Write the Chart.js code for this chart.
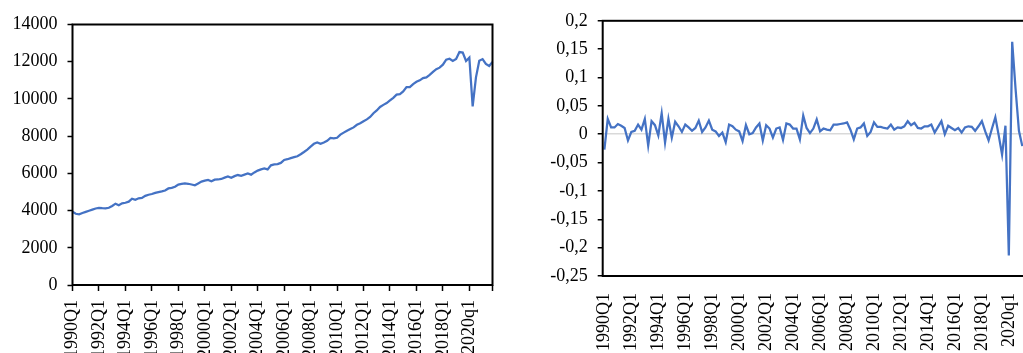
<!DOCTYPE html>
<html>
<head>
<meta charset="utf-8">
<script src="https://cdn.jsdelivr.net/npm/chart.js@4.4.0/dist/chart.umd.min.js"></script>
<style>
  html, body { margin: 0; padding: 0; background: #fff; overflow: hidden; width: 1023px; height: 353px; }
  #levelChart { position: absolute; left: 0; top: 0; }
  #growthChart { position: absolute; left: 510px; top: 0; }
</style>
</head>
<body>
<canvas id="levelChart" width="510" height="353"></canvas>
<canvas id="growthChart" width="545" height="353"></canvas>
<script>
// Quarterly categories 1990Q1 .. 2021Q4 (the source switches to lower-case "q" from 2020)
const firstYear = 1990;
const lastYear = 2021;
const quarters = [];
for (let y = firstYear; y <= lastYear; y++) {
  for (let q = 1; q <= 4; q++) quarters.push(y + (y >= 2020 ? 'q' : 'Q') + q);
}

// Level series
const levelValues = [
  3940, 3830, 3800, 3870, 3930, 3990, 4050, 4110,
  4150, 4130, 4120, 4150, 4250, 4370, 4290, 4390,
  4420, 4480, 4640, 4580, 4660, 4680, 4790, 4850,
  4890, 4950, 4990, 5030, 5080, 5190, 5220, 5280,
  5400, 5430, 5460, 5440, 5400, 5360, 5460, 5560,
  5610, 5650, 5580, 5660, 5670, 5700, 5770, 5830,
  5760, 5850, 5910, 5870, 5930, 5990, 5930, 6050,
  6150, 6210, 6260, 6210, 6430, 6480, 6500, 6560,
  6720, 6760, 6820, 6870, 6920, 7030, 7150, 7280,
  7440, 7590, 7660, 7590, 7660, 7750, 7900, 7880,
  7910, 8080, 8190, 8290, 8380, 8470, 8610, 8690,
  8800, 8900, 9030, 9230, 9380, 9570, 9680, 9780,
  9920, 10060, 10230, 10260, 10400, 10640, 10640, 10800,
  10920, 11000, 11120, 11160, 11290, 11450, 11600, 11680,
  11840, 12110, 12160, 12040, 12150, 12520, 12490, 12040,
  12220, 9600, 11160, 12050, 12140, 11880, 11770, 11990
];

// Quarter-on-quarter growth rate
const growthValues = [
  -0.027, 0.027, 0.012, 0.012, 0.018, 0.015, 0.011, -0.011,
  0.004, 0.006, 0.017, 0.008, 0.027, -0.020, 0.023, 0.016,
  -0.002, 0.037, -0.015, 0.027, -0.006, 0.022, 0.014, 0.004,
  0.017, 0.012, 0.006, 0.011, 0.024, 0.004, 0.012, 0.024,
  0.008, 0.005, -0.003, 0.003, -0.014, 0.017, 0.014, 0.008,
  0.005, -0.012, 0.016, 0.000, 0.002, 0.012, 0.019, -0.011,
  0.016, 0.010, -0.006, 0.010, 0.012, -0.010, 0.019, 0.017,
  0.010, 0.010, -0.009, 0.033, 0.011, 0.002, 0.010, 0.026,
  0.005, 0.010, 0.008, 0.007, 0.017, 0.017, 0.018, 0.019,
  0.021, 0.008, -0.009, 0.010, 0.012, 0.019, -0.003, 0.004,
  0.021, 0.013, 0.013, 0.011, 0.010, 0.017, 0.008, 0.012,
  0.011, 0.014, 0.023, 0.016, 0.020, 0.011, 0.010, 0.014,
  0.014, 0.017, 0.003, 0.013, 0.023, 0.000, 0.015, 0.011,
  0.007, 0.011, 0.003, 0.012, 0.014, 0.013, 0.006, 0.014,
  0.023, 0.005, -0.011, 0.010, 0.030, -0.002, -0.036, 0.015,
  -0.214, 0.163, 0.080, 0.006, -0.021, null, null, null
];

const labelEvery = 8;
const lineColor = '#4472C4';
const textColor = '#000';
const serif = { family: 'Liberation Serif, Times New Roman, serif', size: 18 };

// Black frame around the plot area
const framePlugin = {
  id: 'frame',
  afterDatasetsDraw(chart, args, opts) {
    const { left, right, top, bottom } = chart.chartArea;
    const ctx = chart.ctx;
    ctx.save();
    ctx.strokeStyle = '#000';
    ctx.lineWidth = 2;
    ctx.strokeRect(left, top, right - left, bottom - top);
    if (opts.tickDown) {
      ctx.lineWidth = 1.5;
      ctx.beginPath();
      ctx.moveTo(right, bottom);
      ctx.lineTo(right, bottom + opts.tickDown);
      ctx.stroke();
    }
    ctx.restore();
  }
};

const keepEveryEighth = scale => {
  scale.ticks = scale.ticks.filter(t => t.value % labelEvery === 0);
};

const plainFormat = v => String(Math.round(v));

const commaFormat = v => {
  const r = Math.round(v * 100) / 100;
  return (Object.is(r, -0) ? 0 : r).toString().replace('.', ',');
};

// Left: level series
new Chart(document.getElementById('levelChart'), {
  type: 'line',
  data: {
    labels: quarters,
    datasets: [{
      data: levelValues,
      borderColor: lineColor,
      borderWidth: 2.25,
      pointRadius: 0,
      tension: 0,
      fill: false
    }]
  },
  options: {
    responsive: false,
    animation: false,
    devicePixelRatio: 1,
    layout: { padding: { left: 0, top: 24.5, right: 17.5, bottom: 0 } },
    plugins: { legend: { display: false }, tooltip: { enabled: false }, frame: { tickDown: 6 } },
    scales: {
      x: {
        type: 'category',
        offset: false,
        afterBuildTicks: keepEveryEighth,
        afterFit: s => { s.height = 68; },
        border: { display: false },
        grid: { display: true, offset: false, drawOnChartArea: false, drawTicks: true, tickLength: 6, tickColor: '#000', tickWidth: 1.5 },
        ticks: { autoSkip: false, maxRotation: 90, minRotation: 90, padding: 9, color: textColor, font: serif }
      },
      y: {
        min: 0,
        max: 14000,
        afterFit: s => { s.width = 72.5; },
        border: { display: false },
        grid: { drawOnChartArea: false, drawTicks: true, tickLength: 5, tickColor: '#000', tickWidth: 1.5 },
        ticks: { stepSize: 2000, autoSkip: false, padding: 10, color: textColor, font: serif, callback: plainFormat }
      }
    }
  },
  plugins: [framePlugin]
});

// Right: growth rate
new Chart(document.getElementById('growthChart'), {
  type: 'line',
  data: {
    labels: quarters,
    datasets: [{
      data: growthValues,
      borderColor: lineColor,
      borderWidth: 2.25,
      pointRadius: 0,
      tension: 0,
      fill: false,
      spanGaps: false
    }]
  },
  options: {
    responsive: false,
    animation: false,
    devicePixelRatio: 1,
    layout: { padding: { left: 0, top: 15.7, right: 20.9, bottom: 0 } },
    plugins: { legend: { display: false }, tooltip: { enabled: false }, frame: {} },
    scales: {
      x: {
        type: 'category',
        offset: true,
        afterBuildTicks: keepEveryEighth,
        afterFit: s => { s.height = 77; },
        border: { display: false },
        grid: { display: false, drawTicks: false, tickLength: 0 },
        ticks: { autoSkip: false, maxRotation: 90, minRotation: 90, padding: 17, color: textColor, font: serif }
      },
      y: {
        min: -0.25,
        max: 0.2,
        afterFit: s => { s.width = 92.7; },
        border: { display: false },
        grid: {
          drawOnChartArea: true,
          drawTicks: true,
          tickLength: 5,
          tickColor: '#000',
          tickWidth: 1.5,
          lineWidth: 1.5,
          color: c => (c.tick && Math.abs(c.tick.value) < 1e-9) ? '#d9d9d9' : 'rgba(0,0,0,0)'
        },
        ticks: { stepSize: 0.05, autoSkip: false, padding: 10, color: textColor, font: serif, callback: commaFormat }
      }
    }
  },
  plugins: [framePlugin]
});
</script>
</body>
</html>
